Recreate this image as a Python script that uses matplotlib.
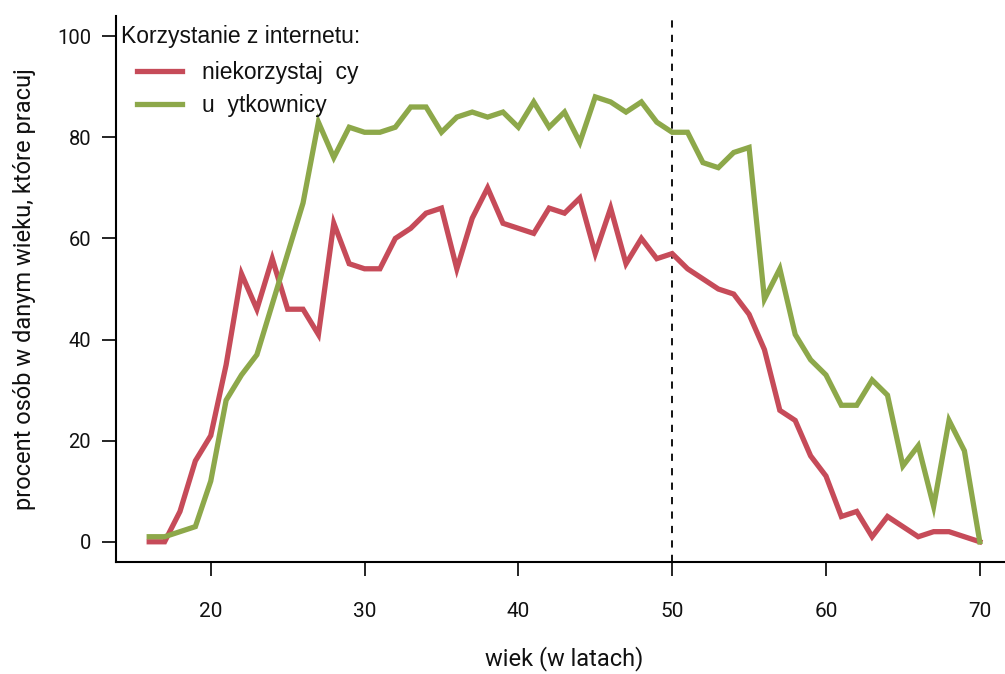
import matplotlib
matplotlib.use("Agg")
import matplotlib.pyplot as plt

# age in years
wiek = list(range(16, 71))

# percent working, people not using the internet
niekorzystajacy = [0, 0, 6, 16, 21, 35, 53, 46, 56, 46,
                   46, 41, 63, 55, 54, 54, 60, 62, 65, 66,
                   54, 64, 70, 63, 62, 61, 66, 65, 68, 57,
                   66, 55, 60, 56, 57, 54, 52, 50, 49, 45,
                   38, 26, 24, 17, 13, 5, 6, 1, 5, 3,
                   1, 2, 2, 1, 0]

# percent working, internet users
uzytkownicy = [1, 1, 2, 3, 12, 28, 33, 37, 47, 57,
               67, 83, 76, 82, 81, 81, 82, 86, 86, 81,
               84, 85, 84, 85, 82, 87, 82, 85, 79, 88,
               87, 85, 87, 83, 81, 81, 75, 74, 77, 78,
               48, 54, 41, 36, 33, 27, 27, 32, 29, 15,
               19, 7, 24, 18, 0]

x_ticks = [20, 30, 40, 50, 60, 70]
y_ticks = [0, 20, 40, 60, 80, 100]

red = "#c64b59"
green = "#8da84a"
txt = "#111111"
font = ["Roboto", "DejaVu Sans"]
legfont = ["Liberation Sans", "DejaVu Sans"]

fig = plt.figure(figsize=(10.05, 6.74), dpi=100)
ax = fig.add_axes([116 / 1005, 112 / 674, 897 / 1005, 546 / 674])

ax.axvline(50, color="black", linestyle=(0, (4, 4)), linewidth=1.3)
ax.plot(wiek, niekorzystajacy, color=red, linewidth=3.8,
        solid_joinstyle="miter", label="niekorzystaj  cy")
ax.plot(wiek, uzytkownicy, color=green, linewidth=3.8,
        solid_joinstyle="miter", label="u  ytkownicy")

ax.set_xlim(13.84, 72.16)
ax.set_ylim(-4, 104)
ax.spines["top"].set_visible(False)
ax.spines["right"].set_visible(False)
ax.spines["left"].set_linewidth(1.5)
ax.spines["bottom"].set_linewidth(1.5)

ax.set_xticks(x_ticks)
ax.set_yticks(y_ticks)
ax.tick_params(axis="x", length=10, width=1.2, pad=19)
ax.tick_params(axis="y", length=10, width=1.2, pad=8)
for lab in ax.get_xticklabels():
    lab.set_family(font)
    lab.set_fontsize(15)
    lab.set_color(txt)
for lab in ax.get_yticklabels():
    lab.set_family(font)
    lab.set_fontsize(14.5)
    lab.set_color(txt)

ax.set_xlabel("wiek (w latach)", family=font, fontsize=17,
              labelpad=18, color=txt)
ax.set_ylabel("procent osób w danym wieku, które pracuj", family=font,
              fontsize=17, labelpad=15, color=txt)

# legend title, drawn on its own so the keys can sit indented below it
ax.text(0.006, 0.963, "Korzystanie z internetu:", transform=ax.transAxes,
        family=legfont, fontsize=16.5, color=txt, ha="left", va="center")
leg = ax.legend(loc="upper left", bbox_to_anchor=(0.023, 0.918), frameon=False,
                prop={"family": legfont, "size": 16.5},
                handlelength=1.97, handletextpad=0.9, borderaxespad=0.0,
                borderpad=0.0, labelspacing=0.45)
for t in leg.get_texts():
    t.set_color(txt)

fig.savefig("out.png", dpi=100)
